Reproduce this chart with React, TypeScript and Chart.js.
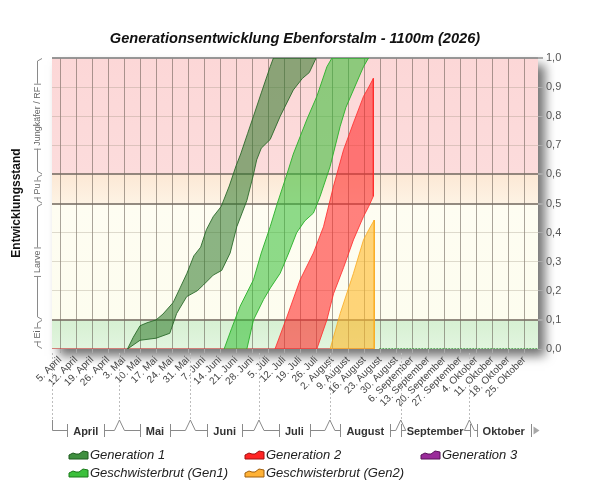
import { useEffect, useRef } from "react";
import { Chart, registerables } from "chart.js";
import type { ChartOptions, Plugin } from "chart.js";

Chart.register(...registerables);

// x values are days counted from 1 April
const tickDays = [4, 11, 18, 25, 32, 39, 46, 53, 60, 67, 74, 81, 88, 95, 102, 109, 116, 123, 130, 137, 144, 151, 158, 165, 172, 179, 186, 193, 200, 207];
const tickLabels = [
  "5. April", "12. April", "19. April", "26. April",
  "3. Mai", "10. Mai", "17. Mai", "24. Mai", "31. Mai",
  "7. Juni", "14. Juni", "21. Juni", "28. Juni",
  "5. Juli", "12. Juli", "19. Juli", "26. Juli",
  "2. August", "9. August", "16. August", "23. August", "30. August",
  "6. September", "13. September", "20. September", "27. September",
  "4. Oktober", "11. Oktober", "18. Oktober", "25. Oktober",
];
const monthNames = ["April", "Mai", "Juni", "Juli", "August", "September", "Oktober"];
const monthStarts = [0, 30, 61, 91, 122, 153, 183, 214];

const stageNames = ["Ei", "Larve", "Pu", "Jungkäfer / RF"];
const stageBounds = [0, 0.1, 0.5, 0.6, 1.0];

// Generation 1: leading (upper) and trailing (lower) edge
const gen1LeadDays = [33.5, 36, 39, 42, 46, 49, 53.5, 56.5, 59.5, 62.5, 65.5, 68, 71, 74.5, 78, 81, 83, 86, 88.6, 92, 95.9, 97.3];
const gen1LeadValues = [0, 0.04, 0.08, 0.09, 0.1, 0.12, 0.16, 0.21, 0.26, 0.32, 0.35, 0.41, 0.455, 0.49, 0.56, 0.63, 0.67, 0.74, 0.8, 0.88, 0.97, 1.0];
const gen1TrailDays = [33.5, 39, 46, 52, 55, 59.4, 64, 66.7, 71, 74.7, 78.4, 81.3, 85.7, 88.6, 90, 92, 95.9, 100.3, 106, 110, 113, 116];
const gen1TrailValues = [0, 0.03, 0.037, 0.054, 0.122, 0.18, 0.2, 0.22, 0.254, 0.27, 0.33, 0.42, 0.51, 0.6, 0.65, 0.69, 0.72, 0.8, 0.89, 0.93, 0.95, 1.0];

// Geschwisterbrut (Gen1)
const sib1LeadDays = [75.75, 79, 82.75, 88.6, 92, 95.9, 99, 103.2, 106, 109, 112, 116.3, 120.7, 122.9];
const sib1LeadValues = [0, 0.07, 0.147, 0.238, 0.33, 0.42, 0.5, 0.6, 0.67, 0.73, 0.79, 0.868, 0.97, 1.0];
const sib1TrailDays = [85.7, 88.6, 93, 96, 100.25, 104, 107.5, 111, 114.8, 117.75, 122.1, 126.5, 129, 132.3, 136.7, 138.9];
const sib1TrailValues = [0, 0.1, 0.17, 0.21, 0.26, 0.33, 0.4, 0.44, 0.467, 0.525, 0.627, 0.765, 0.83, 0.89, 0.97, 1.0];

// Generation 2
const gen2LeadDays = [98, 103.2, 109, 114.8, 119.2, 123.6, 128, 132.3, 136.7, 139, 141];
const gen2LeadValues = [0, 0.11, 0.238, 0.33, 0.42, 0.56, 0.685, 0.777, 0.868, 0.9, 0.93];
const gen2TrailDays = [116.3, 120.7, 123.6, 128, 132.3, 136.7, 139, 141];
const gen2TrailValues = [0, 0.1, 0.19, 0.28, 0.375, 0.455, 0.49, 0.525];

// Geschwisterbrut (Gen2)
const sib2LeadDays = [122.1, 126.5, 132.3, 136.7, 139, 141.4];
const sib2LeadValues = [0, 0.122, 0.26, 0.375, 0.41, 0.443];
const sib2TrailDays = [122.1, 141.4];
const sib2TrailValues = [0, 0];

// zero lines along the bottom
const baseRedDays = [0.5, 141.4];
const baseRedValues = [0, 0];
const baseGreenDays = [143.6, 213];
const baseGreenValues = [0, 0];

const FONT = "'Liberation Sans', Arial, sans-serif";

function band(leadDays: number[], leadValues: number[], trailDays: number[], trailValues: number[]) {
  const pts = leadDays.map((d, i) => ({ x: d, y: leadValues[i] }));
  for (let i = trailDays.length - 1; i >= 0; i--) pts.push({ x: trailDays[i], y: trailValues[i] });
  return pts;
}

function line(days: number[], values: number[]) {
  return days.map((d, i) => ({ x: d, y: values[i] }));
}

const legendItems = [
  { label: "Generation 1", col: 0, row: 0, fill: "#3f8f3f", edge: "#1e5a1e" },
  { label: "Generation 2", col: 1, row: 0, fill: "#ff2424", edge: "#a01010" },
  { label: "Generation 3", col: 2, row: 0, fill: "#9a2c9a", edge: "#5a125a" },
  { label: "Geschwisterbrut (Gen1)", col: 0, row: 1, fill: "#3cc03c", edge: "#1a7a1a" },
  { label: "Geschwisterbrut (Gen2)", col: 1, row: 1, fill: "#ffb236", edge: "#a06010" },
];

const decorPlugin: Plugin<"line"> = {
  id: "decor",
  beforeDraw(chart) {
    const { ctx, chartArea: a } = chart;
    const y = chart.scales.y;
    ctx.save();
    ctx.shadowColor = "rgba(0,0,0,0.55)";
    ctx.shadowBlur = 10;
    ctx.shadowOffsetX = 7;
    ctx.shadowOffsetY = 7;
    ctx.fillStyle = "#fff";
    ctx.fillRect(a.left, a.top, a.width, a.height);
    ctx.restore();

    // stage background bands
    const bandColors = [
      ["#e2f5df", "#d6f0d2"],
      ["#fdfdef", "#fefdf2"],
      ["#fdf3e4", "#fce8d5"],
      ["#fcdcdc", "#fcd7d7"],
    ];
    stageNames.forEach((_, i) => {
      const yb = y.getPixelForValue(stageBounds[i]);
      const yt = y.getPixelForValue(stageBounds[i + 1]);
      const g = ctx.createLinearGradient(0, yb, 0, yt);
      g.addColorStop(0, bandColors[i][0]);
      g.addColorStop(1, bandColors[i][1]);
      ctx.fillStyle = g;
      ctx.fillRect(a.left, yt, a.width, yb - yt);
    });
  },
  afterDraw(chart) {
    const { ctx, chartArea: a } = chart;
    const x = chart.scales.x;
    const y = chart.scales.y;
    ctx.save();

    // title
    ctx.fillStyle = "#111";
    ctx.font = `italic bold 14.6px ${FONT}`;
    ctx.textAlign = "center";
    ctx.textBaseline = "middle";
    ctx.fillText("Generationsentwicklung Ebenforstalm - 1100m (2026)", 295, 39);

    // left axis title
    ctx.save();
    ctx.translate(17, 203);
    ctx.rotate(-Math.PI / 2);
    ctx.font = `bold 12px ${FONT}`;
    ctx.fillText("Entwicklungsstand", 0, 0);
    ctx.restore();

    // stage brackets
    const bx = 37;
    ctx.strokeStyle = "#8a8a8a";
    ctx.lineWidth = 1;
    ctx.font = `9px ${FONT}`;
    stageNames.forEach((name, i) => {
      const yb = y.getPixelForValue(stageBounds[i]);
      const yt = y.getPixelForValue(stageBounds[i + 1]);
      const mid = (yb + yt) / 2;
      const tw = ctx.measureText(name).width;
      const g1 = mid - tw / 2 - 3;
      const g2 = mid + tw / 2 + 3;
      ctx.beginPath();
      ctx.moveTo(bx + 5, yt + 0.5);
      ctx.lineTo(bx + 0.5, yt + 3);
      ctx.lineTo(bx + 0.5, g1);
      ctx.moveTo(bx - 3, g1 + 0.5);
      ctx.lineTo(bx + 4, g1 + 0.5);
      ctx.moveTo(bx - 3, g2 + 0.5);
      ctx.lineTo(bx + 4, g2 + 0.5);
      ctx.moveTo(bx + 0.5, g2);
      ctx.lineTo(bx + 0.5, yb - 3);
      ctx.lineTo(bx + 5, yb - 0.5);
      ctx.stroke();
      ctx.save();
      ctx.translate(bx + 0.5, mid);
      ctx.rotate(-Math.PI / 2);
      ctx.fillStyle = "#666";
      ctx.fillText(name, 0, 0);
      ctx.restore();
    });

    // month brackets
    const my = 430.5;
    monthNames.forEach((m, i) => {
      const x1 = Math.max(x.getPixelForValue(monthStarts[i]), a.left);
      const x2 = Math.min(x.getPixelForValue(monthStarts[i + 1]), a.right);
      const last = i === monthNames.length - 1;
      ctx.font = `bold 11px ${FONT}`;
      const cx = (x1 + x2) / 2;
      const tw = ctx.measureText(m).width;
      const tl = Math.round(cx - tw / 2 - 6) + 0.5;
      const tr = Math.round(cx + tw / 2 + 6) + 0.5;

      // dashed separator
      ctx.save();
      ctx.strokeStyle = "#bdbdbd";
      ctx.setLineDash([2, 2]);
      ctx.beginPath();
      ctx.moveTo(Math.round(x1) + 0.5, a.bottom + 4);
      ctx.lineTo(Math.round(x1) + 0.5, 420);
      ctx.stroke();
      ctx.restore();

      ctx.strokeStyle = "#8a8a8a";
      ctx.beginPath();
      if (i === 0) {
        ctx.moveTo(Math.round(x1) + 0.5, 420);
        ctx.lineTo(Math.round(x1) + 0.5, my);
      } else {
        ctx.moveTo(x1, 420);
        ctx.lineTo(x1 + 5, my);
      }
      ctx.lineTo(tl, my);
      ctx.moveTo(tl, 424);
      ctx.lineTo(tl, 437);
      ctx.moveTo(tr, 424);
      ctx.lineTo(tr, 437);
      if (!last) {
        ctx.moveTo(tr, my);
        ctx.lineTo(x2 - 5, my);
        ctx.lineTo(x2, 420);
      }
      ctx.stroke();

      if (last) {
        ctx.fillStyle = "#a8a8a8";
        ctx.beginPath();
        ctx.moveTo(tr + 2, my - 4);
        ctx.lineTo(tr + 8, my);
        ctx.lineTo(tr + 2, my + 4);
        ctx.closePath();
        ctx.fill();
      }

      ctx.fillStyle = "#333";
      ctx.textAlign = "center";
      ctx.textBaseline = "middle";
      ctx.fillText(m, cx, my + 1);
    });

    // legend
    const colX = [69, 245, 421];
    const rowY = [455, 473];
    const shape = [[0, 9], [0, 5], [4, 3], [7, 4], [10, 4], [14, 1], [19, 2], [19, 9]];
    legendItems.forEach((it) => {
      const lx = colX[it.col];
      const ly = rowY[it.row] - 5;
      ctx.beginPath();
      shape.forEach(([px, py], k) => (k ? ctx.lineTo(lx + px, ly + py) : ctx.moveTo(lx + px, ly + py)));
      ctx.closePath();
      ctx.fillStyle = it.fill;
      ctx.fill();
      ctx.strokeStyle = it.edge;
      ctx.lineWidth = 1;
      ctx.stroke();
      ctx.fillStyle = "#222";
      ctx.font = `italic 13px ${FONT}`;
      ctx.textAlign = "left";
      ctx.textBaseline = "middle";
      ctx.fillText(it.label, lx + 21, rowY[it.row]);
    });

    ctx.restore();
  },
};

export default function App() {
  const canvasRef = useRef<HTMLCanvasElement | null>(null);

  useEffect(() => {
    if (!canvasRef.current) return;

    const bandStyle = { pointRadius: 0, borderWidth: 1, tension: 0, fill: "shape" as const };

    const options: ChartOptions<"line"> = {
      responsive: false,
      animation: false,
      parsing: false,
      layout: { padding: { left: 52, top: 58, right: 0, bottom: 0 } },
      plugins: { legend: { display: false }, tooltip: { enabled: false }, title: { display: false } },
      scales: {
        x: {
          type: "linear",
          min: 0.5,
          max: 213,
          afterBuildTicks: (scale) => {
            scale.ticks = tickDays.map((v) => ({ value: v }));
          },
          afterFit: (scale) => {
            scale.height = 151;
          },
          ticks: {
            autoSkip: false,
            maxRotation: 45,
            minRotation: 45,
            padding: 1,
            color: "#444",
            font: { family: FONT, size: 10 },
            callback: (_v, i) => tickLabels[i],
          },
          grid: {
            color: "rgba(85,75,65,0.5)",
            lineWidth: 1,
            tickLength: 4,
            tickColor: "#aaa",
          },
          border: { display: false },
        },
        y: {
          position: "right",
          min: 0,
          max: 1,
          afterFit: (scale) => {
            scale.width = 62;
          },
          ticks: {
            stepSize: 0.1,
            padding: 3,
            color: "#555",
            font: { family: FONT, size: 11 },
            callback: (v) => Number(v).toFixed(1).replace(".", ","),
          },
          grid: {
            color: (c) => {
              const v = Math.round(c.tick.value * 10) / 10;
              if (v === 0.1 || v === 0.5 || v === 0.6) return "rgba(120,110,100,0.8)";
              if (v === 1) return "rgba(140,140,140,0.9)";
              if (v === 0) return "rgba(0,0,0,0)";
              return "rgba(150,140,120,0.3)";
            },
            lineWidth: (c) => {
              const v = Math.round(c.tick.value * 10) / 10;
              return v === 0.1 || v === 0.5 || v === 0.6 || v === 1 ? 2 : 1;
            },
            tickLength: 5,
            tickColor: "#aaa",
          },
          border: { display: false },
        },
      },
    };

    const chart = new Chart(canvasRef.current, {
      type: "line",
      data: {
        datasets: [
          {
            label: "Generation 1",
            data: band(gen1LeadDays, gen1LeadValues, gen1TrailDays, gen1TrailValues),
            backgroundColor: "rgba(45,120,40,0.55)",
            borderColor: "rgba(35,100,35,0.85)",
            ...bandStyle,
          },
          {
            label: "Geschwisterbrut (Gen1)",
            data: band(sib1LeadDays, sib1LeadValues, sib1TrailDays, sib1TrailValues),
            backgroundColor: "rgba(50,190,50,0.55)",
            borderColor: "rgba(40,175,40,0.9)",
            ...bandStyle,
          },
          {
            label: "Generation 2",
            data: band(gen2LeadDays, gen2LeadValues, gen2TrailDays, gen2TrailValues),
            backgroundColor: "rgba(255,40,40,0.58)",
            borderColor: "rgba(255,40,40,0.8)",
            ...bandStyle,
          },
          {
            label: "Geschwisterbrut (Gen2)",
            data: band(sib2LeadDays, sib2LeadValues, sib2TrailDays, sib2TrailValues),
            backgroundColor: "rgba(255,185,40,0.6)",
            borderColor: "rgba(250,170,30,0.8)",
            ...bandStyle,
          },
          {
            label: "base",
            data: line(baseRedDays, baseRedValues),
            borderColor: "rgba(200,70,70,0.9)",
            borderWidth: 1.5,
            pointRadius: 0,
            fill: false,
          },
          {
            label: "base2",
            data: line(baseGreenDays, baseGreenValues),
            borderColor: "rgba(40,140,40,0.9)",
            borderWidth: 1.5,
            borderDash: [2, 1],
            pointRadius: 0,
            fill: false,
          },
        ],
      },
      options,
      plugins: [decorPlugin],
    });

    return () => {
      chart.destroy();
    };
  }, []);

  return (
    <div style={{ position: "absolute", left: 0, top: 0, width: 600, height: 500, background: "#fff" }}>
      <canvas ref={canvasRef} width={600} height={500} />
    </div>
  );
}
